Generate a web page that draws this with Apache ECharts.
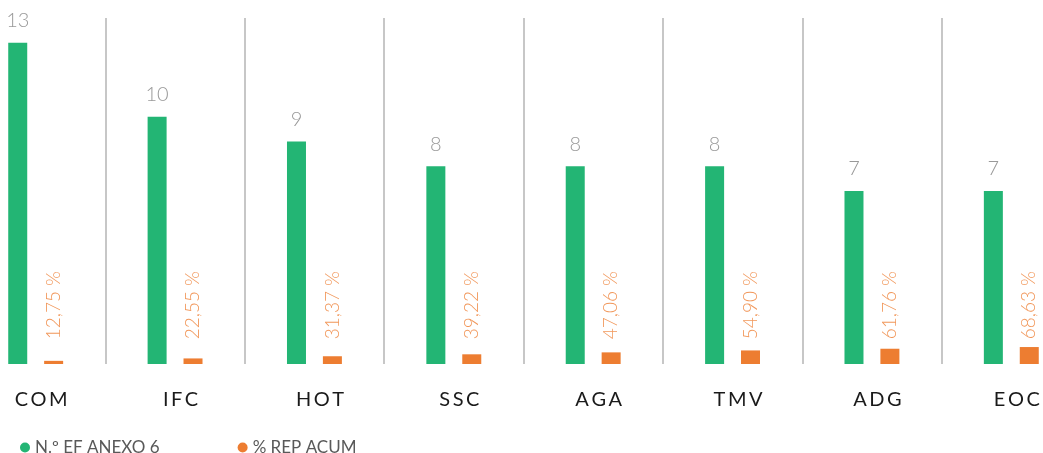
<!DOCTYPE html>
<html>
<head>
<meta charset="utf-8">
<script src="https://cdn.jsdelivr.net/npm/echarts@6/dist/echarts.min.js"></script>
<style>
html,body{margin:0;padding:0;background:#fff;overflow:hidden;width:1043px;height:453px;position:relative;}
#c{position:absolute;left:-34.3px;top:0;width:1115px;height:453px;}
</style>
</head>
<body>
<div id="c"></div>
<script>
const categories = ['COM', 'IFC', 'HOT', 'SSC', 'AGA', 'TMV', 'ADG', 'EOC'];
const efAnexo6 = [13, 10, 9, 8, 8, 8, 7, 7];
const repAcumPct = [12.75, 22.55, 31.37, 39.22, 47.06, 54.90, 61.76, 68.63];
const seriesNames = ['N.º EF ANEXO 6', '% REP ACUM'];

const GREEN = '#23b574';
const ORANGE = '#ed7d31';
const LABEL_Y = 1.0;

const chart = echarts.init(document.getElementById('c'), null, {renderer: 'canvas'});
chart.setOption({
  animation: false,
  backgroundColor: '#fff',
  grid: {left: 0, right: 0, top: 18, bottom: 89, containLabel: false},
  legend: {
    data: seriesNames,
    left: 49, top: 434,
    icon: 'circle', itemWidth: 10, itemHeight: 10, itemGap: 78,
    textStyle: {color: '#595959', fontSize: 17, fontFamily: 'Lato', fontWeight: 'normal'}
  },
  xAxis: {
    type: 'category',
    data: categories,
    axisLine: {show: false},
    axisTick: {show: false},
    axisLabel: {
      interval: 0, margin: 26, color: '#1a1a1a', fontSize: 20, fontFamily: 'Lato',
      padding: [0, 0, 0, 11],
      formatter: v => v.split('').join('\u2009')
    },
    splitLine: {show: true, interval: 0, lineStyle: {color: '#b5b5b5', width: 1.5}}
  },
  yAxis: {type: 'value', min: 0, max: 14, show: false, splitLine: {show: false}},
  series: [
    {
      name: seriesNames[0], type: 'bar', data: efAnexo6, barWidth: 19, barGap: '89%',
      itemStyle: {color: GREEN},
      label: {show: true, position: 'top', distance: 12, color: '#999', fontSize: 20, fontFamily: 'Lato', fontWeight: 300}
    },
    {
      name: seriesNames[1], type: 'bar', data: repAcumPct.map(p => p / 100), barWidth: 19,
      itemStyle: {color: ORANGE}
    },
    {
      type: 'scatter', symbolSize: 0, silent: true,
      data: categories.map((c, i) => [i, LABEL_Y]),
      label: {
        show: true, position: 'inside', rotate: 90, align: 'left', verticalAlign: 'middle',
        offset: [0, 18],
        color: ORANGE, fontSize: 19, fontFamily: 'Lato', fontWeight: 300,
        formatter: p => repAcumPct[p.dataIndex].toFixed(2).replace('.', ',') + ' %'
      }
    }
  ]
});
</script>
</body>
</html>
